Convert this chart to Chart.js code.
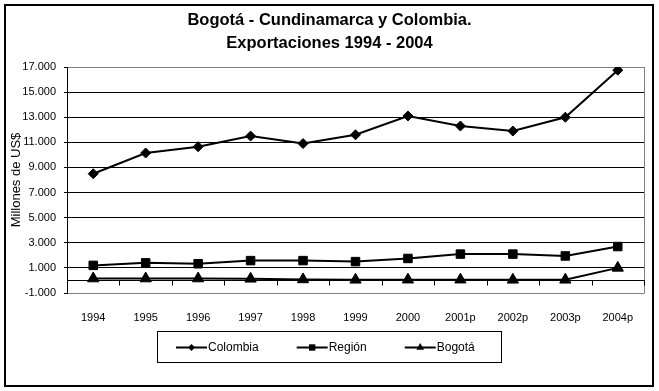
<!DOCTYPE html>
<html><head><meta charset="utf-8">
<script src="https://cdn.jsdelivr.net/npm/chart.js@4/dist/chart.umd.min.js"></script>
<style>html,body{margin:0;padding:0;background:#fff;}#wrap{width:659px;height:391px;position:relative;}</style>
</head><body><div id="wrap"><canvas id="c" width="659" height="391"></canvas></div>
<script>
const categories = ['1994','1995','1996','1997','1998','1999','2000','2001p','2002p','2003p','2004p'];
const colombia = [8500,10150,10650,11500,10900,11600,13100,12300,11900,13000,16750];
const region   = [1200,1400,1330,1580,1580,1500,1750,2100,2100,1950,2700];
const bogota   = [150,150,150,130,80,50,60,60,50,50,1000];
const seriesNames = ['Colombia','Región','Bogotá'];
const titleLines = ['Bogotá - Cundinamarca y Colombia.','Exportaciones 1994 - 2004'];
const yAxisTitle = 'Millones de US$';
const yMin = -1000, yMax = 17000, yStep = 2000;

const FONT = '"Liberation Sans", Arial, Helvetica, sans-serif';
Chart.defaults.font.family = FONT;
Chart.defaults.color = '#000';

function fmt(v){
  const s = Math.abs(v).toString().replace(/\B(?=(\d{3})+(?!\d))/g,'.');
  return (v<0?'-':'') + s;
}

const styles = ['rectRot','rect','triangle'];
const radii = [5,6,6.5];

function drawMarker(ctx, style, x, y, r){
  ctx.beginPath();
  if(style==='rectRot'){
    ctx.moveTo(x-r,y);ctx.lineTo(x,y-r);ctx.lineTo(x+r,y);ctx.lineTo(x,y+r);ctx.closePath();
  } else if(style==='rect'){
    const s=r*Math.SQRT1_2; ctx.rect(x-s,y-s,2*s,2*s);
  } else {
    const h=r*Math.sin(Math.PI/3);
    ctx.moveTo(x,y-r);ctx.lineTo(x+h,y+r/2);ctx.lineTo(x-h,y+r/2);ctx.closePath();
  }
  ctx.fill();
}

const framePlugin = {
  id:'frame',
  beforeDatasetsDraw(chart){
    const {ctx, chartArea:a, scales:{x,y}} = chart;
    ctx.save();
    ctx.strokeStyle='#808080'; ctx.lineWidth=1;
    ctx.beginPath(); ctx.moveTo(Math.round(a.right)+0.5,a.top); ctx.lineTo(Math.round(a.right)+0.5,a.bottom+0.5); ctx.stroke();
    const y0 = Math.round(y.getPixelForValue(0))+0.5;
    ctx.strokeStyle='#000';
    ctx.beginPath(); ctx.moveTo(a.left,y0); ctx.lineTo(a.right+1,y0); ctx.stroke();
    const n = categories.length;
    ctx.beginPath();
    for(let i=0;i<=n;i++){
      let px;
      if(i===0) px=a.left; else if(i===n) px=a.right;
      else px=(x.getPixelForValue(i-1)+x.getPixelForValue(i))/2;
      px=Math.round(px)+0.5;
      ctx.moveTo(px,y0); ctx.lineTo(px,y0+5);
    }
    ctx.stroke();
    ctx.restore();
  },
  afterDraw(chart){
    const {ctx} = chart;
    ctx.save();
    ctx.strokeStyle='#000'; ctx.lineWidth=2;
    ctx.strokeRect(5,5,648,381);
    ctx.lineWidth=1;
    const bx=157.5, by=331.5, bw=344, bh=31;
    ctx.strokeRect(bx,by,bw,bh);
    ctx.font='12px '+FONT; ctx.textBaseline='middle'; ctx.textAlign='left';
    ctx.fillStyle='#000';
    const cy=by+bh/2+0.5;
    let sx=bx+18.5;
    const lr=[3.5,4.5,4.5];
    chart.data.datasets.forEach((ds,i)=>{
      ctx.lineWidth=2; ctx.strokeStyle='#000';
      ctx.beginPath(); ctx.moveTo(sx,cy); ctx.lineTo(sx+31,cy); ctx.stroke();
      drawMarker(ctx, styles[i], sx+15.5, cy, lr[i]);
      ctx.fillText(ds.label, sx+32, cy);
      sx += 32 + ctx.measureText(ds.label).width + 38;
    });
    ctx.restore();
  }
};

const mk = (label,data,i)=>({
  label, data,
  borderColor:'#000', backgroundColor:'#000', borderWidth:2,
  pointStyle:styles[i], pointRadius:radii[i], pointHoverRadius:radii[i],
  pointBorderWidth:1, pointBorderColor:'#000', pointBackgroundColor:'#000',
  tension:0, fill:false
});

new Chart(document.getElementById('c'), {
  type:'line',
  data:{
    labels:categories,
    datasets:[mk(seriesNames[0],colombia,0), mk(seriesNames[1],region,1), mk(seriesNames[2],bogota,2)]
  },
  options:{
    responsive:false, devicePixelRatio:1, animation:false,
    layout:{padding:{left:0,right:0,top:0,bottom:0}},
    plugins:{
      legend:{display:false},
      tooltip:{enabled:false},
      title:{display:true, text:titleLines, color:'#000',
        font:{size:16.5, weight:'bold', lineHeight:1.4}, padding:{top:8.5,bottom:12.3}}
    },
    scales:{
      x:{
        type:'category', offset:true,
        grid:{display:false}, border:{display:false},
        ticks:{font:{size:11}, color:'#000', padding:10, maxRotation:0, autoSkip:false},
        afterFit(s){ s.height = 98; }
      },
      y:{
        min:yMin, max:yMax,
        ticks:{stepSize:yStep, font:{size:11}, color:'#000', padding:8, callback:(v)=>fmt(v)},
        grid:{color:(c)=> (c.tick && (c.tick.value===yMax || c.tick.value===yMin)) ? '#808080' : '#000',
              tickColor:'#000', tickLength:3, lineWidth:1},
        border:{color:'#000', width:1},
        title:{display:true, text:yAxisTitle, color:'#000', font:{size:13}, padding:{top:8.5,bottom:0}},
        afterFit(s){ s.width = 67; }
      },
      yRight:{
        type:'linear', position:'right', min:yMin, max:yMax,
        grid:{display:false, drawOnChartArea:false}, border:{display:false},
        ticks:{display:false},
        afterFit(s){ s.width = 15; }
      }
    }
  },
  plugins:[framePlugin]
});
</script></body></html>
